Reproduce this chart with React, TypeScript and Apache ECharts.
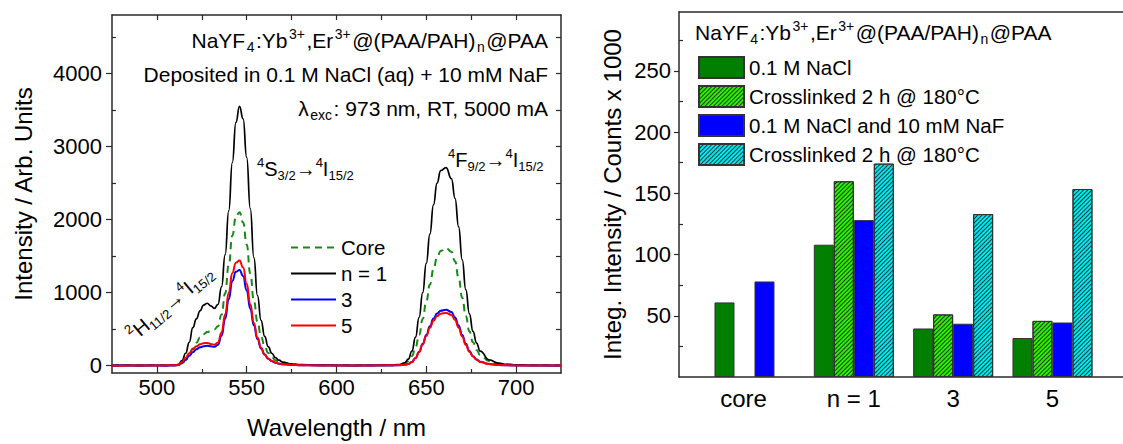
import React, { useEffect, useRef } from 'react';
import * as echarts from 'echarts';

// ---------- Data: emission spectra (left panel) ----------
const wavelength = [
  475, 480, 490, 500, 505, 510,
  512, 514, 516, 518, 520, 522, 524, 526, 528, 530, 532, 534, 536, 538, 540,
  542, 544, 546, 548, 550, 552, 554, 556, 558, 560, 562, 564, 566, 568, 570,
  575, 580, 590, 600, 610, 620, 630, 635, 638,
  640, 642, 644, 646, 648, 650, 652, 654, 656, 658,
  661,
  664, 666, 668, 670, 672, 674, 676, 678, 680,
  685, 690, 695, 700, 710, 725,
];
const coreSpectrum = [
  5, 5, 5, 5, 5, 6,
  10, 30, 75, 150, 235, 315, 385, 430, 460, 475, 495, 540, 700, 990, 1380,
  1780, 2040, 2100, 1960, 1660, 1260, 890, 600, 400, 265, 175, 115, 75, 50, 35,
  18, 10, 6, 5, 5, 5, 6, 12, 30,
  60, 130, 250, 420, 640, 880, 1110, 1320, 1480, 1570,
  1610,
  1560, 1430, 1200, 930, 680, 470, 320, 215, 145,
  60, 28, 15, 8, 5, 5,
];
const n1Spectrum = [
  5, 5, 5, 5, 5, 8,
  20, 70, 170, 320, 520, 640, 750, 830, 855, 820, 785, 840, 1080, 1520, 2120,
  2780, 3330, 3550, 3380, 2850, 2150, 1480, 960, 620, 400, 260, 170, 110, 75, 50,
  25, 15, 8, 5, 5, 5, 8, 15, 40,
  90, 200, 390, 660, 1000, 1400, 1800, 2200, 2500, 2670,
  2710,
  2560, 2290, 1900, 1450, 1040, 710, 470, 310, 200,
  80, 35, 18, 10, 5, 5,
];
const n3Spectrum = [
  0, 2, 0, 3, 0, 4,
  8, 35, 80, 135, 185, 225, 252, 266, 272, 265, 258, 285, 410, 640, 910,
  1160, 1285, 1310, 1225, 1030, 780, 550, 365, 235, 150, 95, 62, 40, 28, 20,
  10, 6, 3, 2, 0, 2, 3, 6, 12,
  22, 50, 105, 190, 300, 420, 540, 645, 715, 752,
  765,
  735, 660, 550, 420, 300, 200, 130, 85, 55,
  22, 10, 5, 3, 2, 0,
];
const n5Spectrum = [
  3, 0, 4, 2, 5, 6,
  14, 50, 110, 170, 225, 265, 292, 308, 312, 298, 287, 318, 455, 700, 1000,
  1270, 1410, 1440, 1345, 1120, 840, 585, 385, 245, 158, 100, 65, 43, 30, 21,
  12, 7, 4, 3, 3, 4, 5, 8, 14,
  24, 52, 105, 185, 290, 405, 520, 615, 680, 712,
  722,
  695, 625, 520, 400, 285, 190, 125, 80, 52,
  22, 10, 6, 4, 3, 3,
];
const xMajorTicks = [500, 550, 600, 650, 700];
const xMinorTicks = [525, 575, 625, 675];
const yMajorTicks = [0, 1000, 2000, 3000, 4000];
const yMinorTicks = [500, 1500, 2500, 3500, 4500];

// ---------- Data: integrated intensities (right panel) ----------
const barCategories = ['core', 'n = 1', '3', '5'];
const naclValues = [60.9, 108.0, 39.6, 31.8];
const naclCrosslinkedValues = [null, 159.8, 51.1, 45.8];
const nafValues = [78.0, 128.1, 43.5, 44.5];
const nafCrosslinkedValues = [null, 174.2, 133.0, 153.5];
const barMajorTicks = [50, 100, 150, 200, 250];
const barMinorTicks = [25, 75, 125, 175, 225, 275];

const FF = "'Liberation Sans', Arial, Helvetica, sans-serif";

const axisLineStyle = { color: '#2a2a2a', width: 1.5 };
const tickStyle = { color: '#2a2a2a', width: 1.2 };

const titleRich: any = {
  m: { fontSize: 21, lineHeight: 27, fontFamily: FF, fill: '#000' },
  sup: { fontSize: 14, lineHeight: 14, fontFamily: FF, fill: '#000', verticalAlign: 'top', padding: [0, 1.5, 0, 1.5] },
  sub: { fontSize: 14, lineHeight: 14, fontFamily: FF, fill: '#000', verticalAlign: 'bottom', padding: [0, 1.5, 0, 1.5] },
};
const noteRich: any = {
  m: { fontSize: 20, lineHeight: 26, fontFamily: FF, fill: '#000' },
  sup: { fontSize: 13, lineHeight: 13, fontFamily: FF, fill: '#000', verticalAlign: 'top' },
  sub: { fontSize: 13, lineHeight: 13, fontFamily: FF, fill: '#000', verticalAlign: 'bottom' },
};

function richText(x: number, y: number, text: string, align: string, rich: any, rotation = 0) {
  return {
    type: 'text',
    x,
    y,
    rotation,
    z: 100,
    style: {
      text,
      rich,
      font: `${rich.m.fontSize}px ${FF}`,
      fill: '#000',
      align,
      verticalAlign: 'middle',
      textAlign: align,
      textVerticalAlign: 'middle',
    },
  };
}

const hatch = {
  symbol: 'rect',
  symbolSize: 1,
  dashArrayX: [1, 0],
  dashArrayY: [1, 2],
  rotation: -Math.PI / 4,
  color: 'rgba(0,0,0,0.75)',
};

function toPairs(vals: (number | null)[]) {
  return vals
    .map((v, i) => [i + 1, v])
    .filter((d) => d[1] !== null);
}

const plainNumber = (v: number) => String(v);

export default function App() {
  const ref = useRef<HTMLDivElement>(null);

  useEffect(() => {
    if (!ref.current) return;
    const chart = echarts.init(ref.current, undefined, { renderer: 'svg' });

    const spectrum = (vals: number[]) => wavelength.map((w, i) => [w, vals[i]]);
    const lineBase = {
      type: 'line',
      xAxisIndex: 0,
      yAxisIndex: 0,
      symbol: 'none',
      smooth: true,
      smoothMonotone: 'x',
    };
    const barBase = {
      type: 'bar',
      xAxisIndex: 3,
      yAxisIndex: 3,
      barWidth: 20,
      barGap: '0%',
    };

    const option: any = {
      animation: false,
      backgroundColor: '#fff',
      textStyle: { fontFamily: FF },
      grid: [
        { left: 112, top: 15, width: 449, height: 363 },
        { left: 679, top: 12, width: 450, height: 365 },
      ],
      xAxis: [
        {
          gridIndex: 0, type: 'value', min: 475, max: 725, position: 'bottom',
          axisLine: { show: true, onZero: false, lineStyle: axisLineStyle },
          axisTick: { show: true, inside: true, length: 7, customValues: xMajorTicks, lineStyle: tickStyle },
          axisLabel: { customValues: xMajorTicks, margin: 3, fontSize: 22, color: '#000', fontFamily: FF, formatter: plainNumber },
          splitLine: { show: false },
          name: 'Wavelength / nm', nameLocation: 'middle', nameGap: 42,
          nameTextStyle: { fontSize: 24, color: '#000', fontFamily: FF },
        },
        {
          gridIndex: 0, type: 'value', min: 475, max: 725, position: 'bottom',
          axisLine: { show: false, onZero: false },
          axisTick: { show: true, inside: true, length: 4, customValues: xMinorTicks, lineStyle: tickStyle },
          axisLabel: { show: false }, splitLine: { show: false },
        },
        {
          gridIndex: 0, type: 'value', min: 475, max: 725, position: 'top',
          axisLine: { show: true, onZero: false, lineStyle: axisLineStyle },
          axisTick: { show: true, inside: true, length: 5, customValues: [...xMajorTicks, ...xMinorTicks], lineStyle: tickStyle },
          axisLabel: { show: false }, splitLine: { show: false },
        },
        {
          gridIndex: 1, type: 'value', min: 0.24, max: 4.71, position: 'bottom',
          axisLine: { show: true, onZero: false, lineStyle: axisLineStyle },
          axisTick: { show: false },
          axisLabel: {
            customValues: [1, 2, 3, 4],
            margin: 9, fontSize: 24, color: '#000', fontFamily: FF,
            formatter: (v: number) => {
              const i = Math.round(v) - 1;
              return i === 0 ? '{c|' + barCategories[0] + '}' : barCategories[i];
            },
            rich: { c: { fontSize: 24, color: '#000', fontFamily: FF, padding: [0, 22, 0, 0] } },
          },
          splitLine: { show: false },
        },
        {
          gridIndex: 1, type: 'value', min: 0.24, max: 4.71, position: 'top',
          axisLine: { show: true, onZero: false, lineStyle: axisLineStyle },
          axisTick: { show: false }, axisLabel: { show: false }, splitLine: { show: false },
        },
      ],
      yAxis: [
        {
          gridIndex: 0, type: 'value', min: -100, max: 4800, position: 'left',
          axisLine: { show: true, onZero: false, lineStyle: axisLineStyle },
          axisTick: { show: true, inside: false, length: 6, customValues: yMajorTicks, lineStyle: tickStyle },
          axisLabel: { customValues: yMajorTicks, margin: 10, fontSize: 22, color: '#000', fontFamily: FF, formatter: plainNumber },
          splitLine: { show: false },
          name: 'Intensity / Arb. Units', nameLocation: 'middle', nameGap: 77,
          nameTextStyle: { fontSize: 24, color: '#000', fontFamily: FF },
        },
        {
          gridIndex: 0, type: 'value', min: -100, max: 4800, position: 'left',
          axisLine: { show: false, onZero: false },
          axisTick: { show: true, inside: true, length: 4, customValues: yMinorTicks, lineStyle: tickStyle },
          axisLabel: { show: false }, splitLine: { show: false },
        },
        {
          gridIndex: 0, type: 'value', min: -100, max: 4800, position: 'right',
          axisLine: { show: true, onZero: false, lineStyle: axisLineStyle },
          axisTick: { show: true, inside: true, length: 5, customValues: [...yMajorTicks, ...yMinorTicks], lineStyle: tickStyle },
          axisLabel: { show: false }, splitLine: { show: false },
        },
        {
          gridIndex: 1, type: 'value', min: 0, max: 298, position: 'left',
          axisLine: { show: true, onZero: false, lineStyle: axisLineStyle },
          axisTick: { show: true, inside: false, length: 5, customValues: barMajorTicks, lineStyle: tickStyle },
          axisLabel: { customValues: barMajorTicks, margin: 8, fontSize: 22, color: '#000', fontFamily: FF, formatter: plainNumber },
          splitLine: { show: false },
          name: 'Integ. Intensity / Counts x 1000', nameLocation: 'middle', nameGap: 55,
          nameTextStyle: { fontSize: 24, color: '#000', fontFamily: FF },
        },
        {
          gridIndex: 1, type: 'value', min: 0, max: 298, position: 'left',
          axisLine: { show: false, onZero: false },
          axisTick: { show: true, inside: true, length: 4, customValues: barMinorTicks, lineStyle: tickStyle },
          axisLabel: { show: false }, splitLine: { show: false },
        },
      ],
      legend: [
        {
          data: ['Core', 'n = 1', '3', '5'],
          orient: 'vertical', left: 290, top: 237, padding: 0,
          itemWidth: 45, itemHeight: 20, itemGap: 5, selectedMode: false,
          itemStyle: { opacity: 0 },
          textStyle: { fontSize: 20.5, color: '#000', fontFamily: FF },
        },
        {
          data: ['0.1 M NaCl', 'Crosslinked 2 h @ 180°C', '0.1 M NaCl and 10 mM NaF', 'Crosslinked 2 h @ 180°C '],
          orient: 'vertical', left: 698, top: 56, padding: 0,
          itemWidth: 45, itemHeight: 21, itemGap: 6, selectedMode: false, icon: 'rect',
          formatter: (n: string) => n.trim(),
          textStyle: { fontSize: 20.5, color: '#000', fontFamily: FF },
        },
      ],
      series: [
        { ...lineBase, name: 'Core', data: spectrum(coreSpectrum), itemStyle: { color: '#168a16' }, lineStyle: { color: '#168a16', width: 2, type: [7, 5] } },
        { ...lineBase, name: 'n = 1', data: spectrum(n1Spectrum), itemStyle: { color: '#000' }, lineStyle: { color: '#000', width: 1.7 } },
        { ...lineBase, name: '3', data: spectrum(n3Spectrum), itemStyle: { color: '#0000ff' }, lineStyle: { color: '#0000ff', width: 2 } },
        { ...lineBase, name: '5', data: spectrum(n5Spectrum), itemStyle: { color: '#ff0000' }, lineStyle: { color: '#ff0000', width: 2 } },
        { ...barBase, name: '0.1 M NaCl', data: toPairs(naclValues), itemStyle: { color: '#007f00', borderColor: '#333', borderWidth: 1 } },
        { ...barBase, name: 'Crosslinked 2 h @ 180°C', data: toPairs(naclCrosslinkedValues), itemStyle: { color: '#2ef000', borderColor: '#333', borderWidth: 1, decal: hatch } },
        { ...barBase, name: '0.1 M NaCl and 10 mM NaF', data: toPairs(nafValues), itemStyle: { color: '#0000ff', borderColor: '#333', borderWidth: 1 } },
        { ...barBase, name: 'Crosslinked 2 h @ 180°C ', data: toPairs(nafCrosslinkedValues), itemStyle: { color: '#00e8f0', borderColor: '#333', borderWidth: 1, decal: hatch } },
      ],
      graphic: [
        richText(548, 40, '{m|NaYF}{sub|4}{m|:Yb}{sup|3+}{m|,Er}{sup|3+}{m|@(PAA/PAH)}{sub|n}{m|@PAA}', 'right', titleRich),
        richText(548, 74, '{m|Deposited in 0.1 M NaCl (aq) + 10 mM NaF}', 'right', titleRich),
        richText(548, 108, '{m|λ}{sub|exc}{m|: 973 nm, RT, 5000 mA}', 'right', titleRich),
        richText(257, 169, '{sup|4}{m|S}{sub|3/2}{m|→}{sup|4}{m|I}{sub|15/2}', 'left', noteRich),
        richText(448, 160, '{sup|4}{m|F}{sub|9/2}{m|→}{sup|4}{m|I}{sub|15/2}', 'left', noteRich),
        richText(170, 303, '{sup|2}{m|H}{sub|11/2}{m|→}{sup|4}{m|I}{sub|15/2}', 'center', noteRich, (40 * Math.PI) / 180),
        richText(695, 32, '{m|NaYF}{sub|4}{m|:Yb}{sup|3+}{m|,Er}{sup|3+}{m|@(PAA/PAH)}{sub|n}{m|@PAA}', 'left', titleRich),
      ],
    };

    chart.setOption(option);
    return () => chart.dispose();
  }, []);

  return (
    <div
      ref={ref}
      style={{ position: 'fixed', left: 0, top: 0, width: 1123, height: 444, background: '#fff' }}
    />
  );
}
